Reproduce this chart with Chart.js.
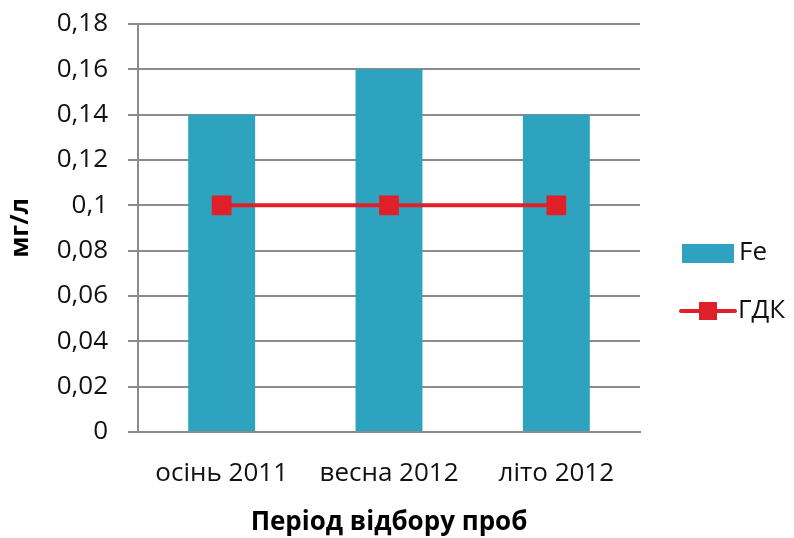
<!DOCTYPE html>
<html>
<head>
<meta charset="utf-8">
<script src="https://cdn.jsdelivr.net/npm/chart.js@4/dist/chart.umd.min.js"></script>
<style>
  html, body { margin: 0; padding: 0; background: #fff; }
  #wrap { width: 794px; height: 538px; }
</style>
</head>
<body>
<div id="wrap"><canvas id="canvas"></canvas></div>
<script>
// data
var periods = ['осінь 2011', 'весна 2012', 'літо 2012'];
var feValues = [0.14, 0.16, 0.14];
var gdkValues = [0.1, 0.1, 0.1];
var yTicks = [0, 0.02, 0.04, 0.06, 0.08, 0.1, 0.12, 0.14, 0.16, 0.18];

var teal = '#2EA3BF';
var red = '#DF2029';
var gridGray = '#8c8c8c';
var fontFamily = '"Open Sans", "DejaVu Sans", sans-serif';

// legend drawn by hand on the right side
var sideLegend = {
    id: 'sideLegend',
    afterDraw: function (chart) {
        var ctx = chart.ctx;
        ctx.save();
        ctx.fillStyle = teal;
        ctx.fillRect(682, 244, 52, 19);
        ctx.strokeStyle = red;
        ctx.lineWidth = 4;
        ctx.lineCap = 'round';
        ctx.beginPath();
        ctx.moveTo(681, 311);
        ctx.lineTo(735, 311);
        ctx.stroke();
        ctx.fillStyle = red;
        ctx.fillRect(699, 302, 18, 18);
        ctx.fillStyle = '#111';
        ctx.font = '26px ' + fontFamily;
        ctx.textBaseline = 'middle';
        ctx.fillText('Fe', 739, 253);
        ctx.fillText('ГДК', 738, 311);
        ctx.restore();
    }
};

var config = {
    data: {
        labels: periods,
        datasets: [{
            type: 'line',
            label: 'ГДК',
            data: gdkValues,
            borderColor: red,
            backgroundColor: red,
            borderWidth: 4,
            pointStyle: 'rect',
            pointRadius: 14,
            pointHoverRadius: 14,
            pointBorderWidth: 0,
            order: 0
        }, {
            type: 'bar',
            label: 'Fe',
            data: feValues,
            backgroundColor: teal,
            categoryPercentage: 1,
            barPercentage: 0.4,
            order: 1
        }]
    },
    options: {
        responsive: true,
        maintainAspectRatio: false,
        animation: false,
        layout: {
            padding: { top: 24, right: 154, bottom: 0, left: 0 }
        },
        plugins: {
            legend: { display: false },
            tooltip: { enabled: false }
        },
        scales: {
            x: {
                grid: { display: false },
                border: { display: true, color: gridGray, width: 2 },
                ticks: {
                    color: '#111',
                    padding: 18,
                    font: { family: fontFamily, size: 26 }
                },
                title: {
                    display: true,
                    text: 'Період відбору проб',
                    color: '#000',
                    padding: { top: 10, bottom: 0 },
                    font: { family: fontFamily, size: 26, weight: 'bold' }
                },
                afterFit: function (scale) { scale.height = 106; }
            },
            y: {
                min: 0,
                max: 0.18,
                afterBuildTicks: function (scale) {
                    scale.ticks = yTicks.map(function (v) { return { value: v }; });
                },
                grid: { color: gridGray, lineWidth: 2, tickLength: 10 },
                border: { display: true, color: gridGray, width: 2 },
                ticks: {
                    color: '#111',
                    padding: 20,
                    font: { family: fontFamily, size: 26, lineHeight: 0.25 },
                    callback: function (v) { return String(Math.round(v * 100) / 100).replace('.', ','); }
                },
                title: {
                    display: true,
                    text: 'мг/л',
                    color: '#000',
                    padding: { top: 6, bottom: 0 },
                    font: { family: fontFamily, size: 25, weight: 'bold' }
                },
                afterFit: function (scale) { scale.width = 138; }
            }
        }
    },
    plugins: [sideLegend]
};

window.onload = function () {
    window.myChart = new Chart(document.getElementById('canvas'), config);
};
</script>
</body>
</html>
